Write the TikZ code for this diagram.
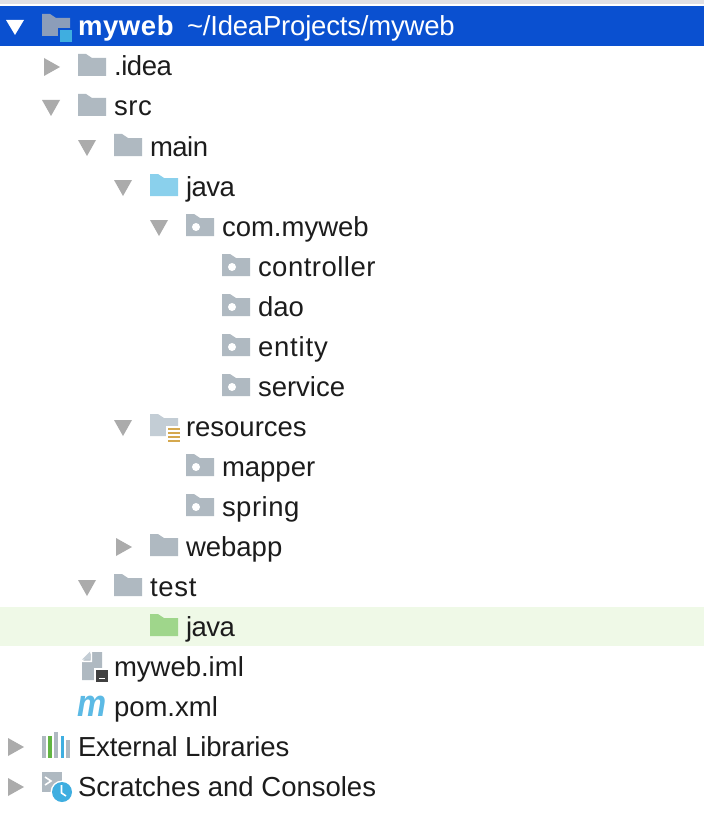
\documentclass[tikz,border=0pt]{standalone}
\usepackage{fontspec}
\setmainfont{Liberation Sans}
\definecolor{fold}{HTML}{AFB9C1}
\definecolor{tri}{HTML}{ABABAB}
\definecolor{selblue}{HTML}{0A50D0}
\definecolor{rootfold}{HTML}{8C9DB9}
\definecolor{skyb}{HTML}{3FAEE0}
\definecolor{javab}{HTML}{8AD0EC}
\definecolor{testg}{HTML}{9FD68B}
\definecolor{hilite}{HTML}{EFF9E7}
\definecolor{resf}{HTML}{C3CDD5}
\definecolor{resl}{HTML}{D5A84E}
\definecolor{ink}{HTML}{1C1C1C}
\definecolor{topbar}{HTML}{E0E0E4}
\definecolor{libgreen}{HTML}{62B543}
\newcommand{\foldershape}[3]{\fill[#3] (#1,#2-13) -- ++(8,0) -- ++(6,4) -- ++(14,0) -- ++(0,18) -- ++(-28,0) -- cycle;}
\newcommand{\pkgdot}[2]{\fill[white] (#1+10,#2) circle[radius=4];}
\newcommand{\opentri}[3]{\fill[#3] (#1-9,#2-7) -- (#1+9,#2-7) -- (#1,#2+9) -- cycle;}
\newcommand{\closedtri}[3]{\fill[#3] (#1-8,#2-9) -- (#1+8,#2) -- (#1-8,#2+9) -- cycle;}
\newcommand{\spaced}[2]{{\addfontfeature{LetterSpace=#1}#2}}
\tikzset{
 lbl/.style={anchor=base west,inner sep=0pt,outer sep=0pt,text=ink,font=\fontsize{27.5}{30}\selectfont},
 rootlbl/.style={lbl,text=white},
}
\begin{document}
\begin{tikzpicture}[x=1pt,y=-1pt]
\useasboundingbox (0,0) rectangle (704,824);
\fill[white] (0,0) rectangle (704,824);
\fill[topbar] (0,0) rectangle (704,4.5);
\fill[selblue] (0,6) rectangle (704,46);
\fill[hilite] (0,607) rectangle (704,646);
% root
\fill[white] (6,20) -- (24,20) -- (15,35) -- cycle;
\foldershape{42}{27}{rootfold}
\fill[selblue] (58,28) rectangle (74,44);
\fill[skyb] (60,30) rectangle (72,42);
\node[rootlbl,font=\fontsize{27.5}{30}\bfseries\selectfont] (root) at (78,36) {\spaced{2.2}{myweb}};
\node[rootlbl] (rootpath) at (187,36) {\spaced{-0.7}{\textasciitilde/IdeaProjects/myweb}};
% .idea
\closedtri{52}{67}{tri}\foldershape{78}{67}{fold}
\node[lbl] (idea) at (114,76) {\spaced{-1.5}{.idea}};
% src
\opentri{51}{107}{tri}\foldershape{78}{107}{fold}
\node[lbl] (src) at (114,116) {\spaced{2.4}{src}};
% main
\opentri{87}{147}{tri}\foldershape{114}{147}{fold}
\node[lbl] (main) at (150,156) {\spaced{-1.8}{main}};
% java
\opentri{123}{187}{tri}\foldershape{150}{187}{javab}
\node[lbl] (java) at (186,196) {\spaced{-1.8}{java}};
% com.myweb
\opentri{159}{227}{tri}\foldershape{186}{227}{fold}\pkgdot{186}{227}
\node[lbl] (com) at (222,236) {com.myweb};
\foldershape{222}{267}{fold}\pkgdot{222}{267}
\node[lbl] (controller) at (258,276) {\spaced{1.8}{controller}};
\foldershape{222}{307}{fold}\pkgdot{222}{307}
\node[lbl] (dao) at (258,316) {dao};
\foldershape{222}{347}{fold}\pkgdot{222}{347}
\node[lbl] (entity) at (258,356) {\spaced{3}{entity}};
\foldershape{222}{387}{fold}\pkgdot{222}{387}
\node[lbl] (service) at (258,396) {service};
% resources
\opentri{123}{427}{tri}\foldershape{150}{427}{resf}
\fill[white] (166,426) rectangle (182,444);
\foreach \yy in {428,432,436,440}{\fill[resl] (168,\yy) rectangle (180,\yy+2);}
\node[lbl] (resources) at (186,436) {resources};
\foldershape{186}{467}{fold}\pkgdot{186}{467}
\node[lbl] (mapper) at (222,476) {mapper};
\foldershape{186}{507}{fold}\pkgdot{186}{507}
\node[lbl] (spring) at (222,516) {\spaced{1.8}{spring}};
% webapp
\closedtri{124}{547}{tri}\foldershape{150}{547}{fold}
\node[lbl] (webapp) at (186,556) {webapp};
% test
\opentri{87}{587}{tri}\foldershape{114}{587}{fold}
\node[lbl] (test) at (150,596) {\spaced{2.7}{test}};
\foldershape{150}{627}{testg}
\node[lbl] (testjava) at (186,636) {\spaced{-1.8}{java}};
% iml
\fill[fold] (82,680) -- (82,662) -- (92,652) -- (102,652) -- (102,680) -- cycle;
\fill[white] (90.5,652) -- (90.5,660.5) -- (82,660.5) -- (82,662) -- (92,662) -- (92,652) -- cycle;
\fill[resf] (82,659.5) -- (90,651.5) -- (90,659.5) -- cycle;
\fill[white] (94,668) rectangle (110,684);
\fill[black!75] (96,670) rectangle (108,682);
\fill[white] (99,677.5) rectangle (105,679);
\node[lbl] (iml) at (114,676) {myweb.iml};
% pom
\node[anchor=base west,inner sep=0pt,text=skyb!85!white,font=\fontsize{38}{38}\itshape\bfseries\selectfont] (m) at (77,716) {\scalebox{.86}[1]{m}};
\node[lbl] (pom) at (114,716) {pom.xml};
% External Libraries
\closedtri{16}{747}{tri}
\fill[fold] (42,736) rectangle (45.5,758);
\fill[libgreen] (48,736) rectangle (52,758);
\fill[fold] (54,732) rectangle (58,758);
\fill[skyb] (60.5,736) rectangle (64,758);
\fill[fold] (66,740) rectangle (70,758);
\node[lbl] (ext) at (78,756) {\spaced{-0.6}{External Libraries}};
% Scratches
\closedtri{16}{787}{tri}
\fill[fold] (42,772) rectangle (62,792);
\draw[white,line width=1.6pt] (45,777) -- (51,781) -- (45,785);
\fill[white] (62,792) circle[radius=11.5];
\fill[skyb] (62,792) circle[radius=10];
\draw[white,line width=1.6pt] (61.5,785) -- (61.5,793) -- (66,796);
\node[lbl] (scr) at (78,796) {Scratches and Consoles};
\end{tikzpicture}
\end{document}
